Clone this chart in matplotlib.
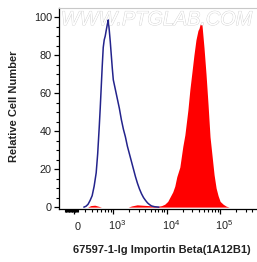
import matplotlib
matplotlib.use("Agg")
import matplotlib.pyplot as plt
import matplotlib.patheffects as pe
from matplotlib.ticker import FixedLocator, NullFormatter
from matplotlib.transforms import ScaledTranslation
import numpy as np

plt.rcParams['font.family'] = ['Liberation Sans', 'DejaVu Sans']
plt.rcParams['mathtext.fontset'] = 'custom'
plt.rcParams['mathtext.rm'] = 'Liberation Sans'
plt.rcParams['mathtext.it'] = 'Liberation Sans:italic'

# ---- data (fluorescence intensity, relative cell number) ----
control_x = [265, 310, 337, 368, 402, 438, 478, 510, 545, 569, 594, 620, 648, 676,
             706, 737, 771, 805, 841, 878, 917, 958, 1000, 1091, 1190, 1298, 1416,
             1545, 1684, 1837, 2004, 2186, 2384, 2600, 2836, 3094, 3375, 3681, 4015,
             4380, 4777, 5211, 5937, 7061]
control_y = [0, 0.5, 1.5, 3.5, 6, 11, 18, 28, 42, 52, 63, 74, 84, 88,
             90, 93, 96, 98.5, 93, 87, 80, 73, 67, 62, 57, 52, 46,
             41, 37, 32, 28, 24, 20, 16, 12.5, 9.5, 7, 5, 3.5,
             2.2, 1.3, 0.6, 0.2, 0]

sample_x = [330, 380, 450, 520, 600, 1900, 2200, 2800, 3500, 4500, 5500, 6761,
            8051, 9168, 10444, 11391, 12976, 14157, 15448, 17588, 20035, 21868,
            24897, 27169, 29647, 32305, 35255, 38465, 40180, 41976, 43853, 45709,
            47753, 49888, 54450, 59429, 64715, 70632, 77090, 84140, 91622, 100000,
            114000, 129700, 147800]
sample_y = [0, 0.8, 1.0, 0.5, 0, 0, 0.6, 1.2, 1.0, 0.8, 0.6, 0.4,
            0.8, 1.5, 3, 5, 8, 11, 16, 21, 32, 38,
            51, 62, 71, 80, 88, 93, 94, 96, 97, 96,
            90, 84, 70, 54, 37, 27, 17, 10, 6, 3,
            1.5, 0.5, 0]

x_ticks = [0, 1e3, 1e4, 1e5]
x_tick_labels = ['0', '$10^3$', '$10^4$', '$10^5$']
y_ticks = [0, 20, 40, 60, 80, 100]

xlabel = '67597-1-Ig Importin Beta(1A12B1)'
ylabel = 'Relative Cell Number'
watermark = 'WWW.PTGLAB.COM'

# ---- figure ----
W, H = 257, 262
fig = plt.figure(figsize=(W / 100, H / 100), dpi=100)
ax = fig.add_axes([59 / W, 53 / H, 198 / W, 201 / H])

ax.set_xscale('symlog', linthresh=300, linscale=0.192)
ax.fill_between(sample_x, sample_y, 0, color='#ff0000', linewidth=0, zorder=2)
ax.plot(control_x, control_y, color='#23238c', linewidth=1.1, zorder=3)

ax.set_xlim(-350, 4.9e5)
ax.set_ylim(-1, 104.8)

ax.set_xticks(x_ticks)
ax.set_xticklabels(x_tick_labels)
minor = [-240, -220, -200, -180, -160, -140, -120, -100, -80, -60, -40, -20, 20, 40, 60, 80, 100]
for dec in [100, 1000, 10000, 100000]:
    for k in range(2, 10):
        v = k * dec
        if 300 <= v <= 4.8e5:
            minor.append(v)
ax.xaxis.set_minor_locator(FixedLocator(minor))
ax.xaxis.set_minor_formatter(NullFormatter())

ax.set_yticks(y_ticks)
ax.yaxis.set_minor_locator(FixedLocator(list(range(0, 105, 5))))

ax.tick_params(axis='both', which='major', direction='out', length=3.6, width=0.9,
               labelsize=7.8, colors='black', labelcolor='#222222')
ax.tick_params(axis='both', which='minor', direction='out', length=2.3, width=0.8)
ax.tick_params(axis='x', which='major', pad=3)
ax.tick_params(axis='y', which='major', pad=1.5)

# align x tick labels on the baseline of the digits, slightly right of the tick
offset = ScaledTranslation(4 / 100, -11.5 / 100, fig.dpi_scale_trans)
for lab in ax.get_xticklabels():
    lab.set_va('baseline')
    lab.set_transform(lab.get_transform() + offset)

for s in ['left', 'bottom']:
    ax.spines[s].set_linewidth(0.9)
    ax.spines[s].set_color('black')
ax.spines['top'].set_color('#c8c8c8')
ax.spines['top'].set_linewidth(0.8)
ax.spines['right'].set_visible(False)

ax.set_xlabel(xlabel, fontsize=8, fontweight='bold', color='#222222')
ax.xaxis.set_label_coords((162 - 59) / 198, (209 - 250) / 201)
ax.xaxis.label.set_va('center')
ax.set_ylabel(ylabel, fontsize=8, fontweight='bold', color='#222222')
ax.yaxis.set_label_coords((14 - 59) / 198, (209 - 106.5) / 201)
ax.yaxis.label.set_va('center')

fig.text(61 / W, (H - 25) / H, watermark, fontsize=14.3, style='italic',
         color='white', va='baseline', ha='left', zorder=1,
         path_effects=[pe.withStroke(linewidth=0.6, foreground='#d0d0d0')])

fig.savefig('out.png', dpi=100)
